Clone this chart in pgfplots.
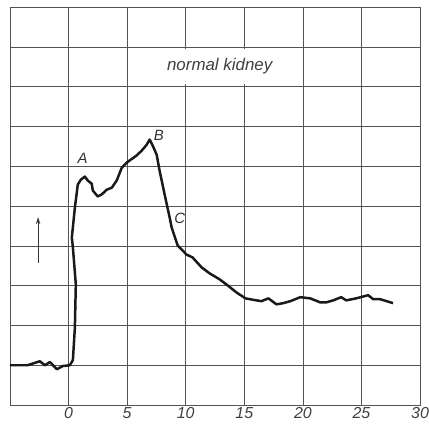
\documentclass[border=0pt]{standalone}
\usepackage{fontspec}
\setmainfont{Liberation Sans}
\usepackage{pgfplots}
\pgfplotsset{compat=1.18}
\usetikzlibrary{arrows.meta}

\definecolor{gridcol}{rgb}{0.33,0.33,0.31}

\begin{document}
\begin{tikzpicture}
\begin{axis}[%
width=411bp,
height=399bp,
scale only axis,
xmin=-5, xmax=30,
ymin=0, ymax=10,
xtick={-5,0,5,10,15,20,25,30},
xticklabels={,0,5,10,15,20,25,30},
ytick={0,1,2,3,4,5,6,7,8,9,10},
yticklabels={},
major tick length=0pt,
grid=major,
grid style={gridcol, line width=0.5pt},
axis line style={gridcol, line width=0.6pt},
/pgf/number format/assume math mode=true,
xticklabel style={font=\fontsize{16}{16}\selectfont\itshape, text=black!75, inner sep=2bp},
clip=false
]
% white box behind the caption
\fill[white] (axis cs:5.35,8.07) rectangle (axis cs:19.75,8.95);
\node[font=\fontsize{17}{17}\selectfont\itshape, text=black!75] at (axis cs:12.9,8.52) {normal kidney};

\addplot[black!90, line width=2.5pt, line join=round] table {
x y
-5.00 1.00
-3.50 1.00
-2.45 1.10
-2.02 1.00
-1.59 1.08
-1.00 0.90
-0.49 0.98
0.11 1.00
0.37 1.13
0.54 1.95
0.62 3.03
0.37 3.96
0.28 4.21
0.54 4.96
0.79 5.54
1.05 5.66
1.39 5.74
1.64 5.64
1.98 5.56
2.07 5.39
2.49 5.24
2.83 5.29
3.26 5.41
3.69 5.46
4.11 5.64
4.54 5.96
4.96 6.09
5.81 6.27
6.24 6.39
6.67 6.54
6.92 6.67
7.18 6.52
7.52 6.29
7.77 5.89
8.20 5.29
8.63 4.71
8.80 4.46
9.31 4.01
10.07 3.78
10.58 3.71
11.35 3.46
12.03 3.31
12.88 3.16
13.56 3.01
14.33 2.83
15.10 2.68
16.03 2.63
16.46 2.61
17.06 2.68
17.74 2.53
18.33 2.56
18.93 2.61
19.78 2.71
20.63 2.68
21.48 2.58
22.00 2.58
22.59 2.63
23.27 2.71
23.70 2.63
24.55 2.68
25.57 2.76
26.00 2.66
26.59 2.66
27.70 2.56
};

\node[font=\fontsize{15}{15}\selectfont\itshape, text=black!80] at (axis cs:1.2,6.20) {A};
\node[font=\fontsize{15}{15}\selectfont\itshape, text=black!80] at (axis cs:7.7,6.78) {B};
\node[font=\fontsize{15}{15}\selectfont\itshape, text=black!80] at (axis cs:9.5,4.70) {C};
\draw[black!80, line width=0.8pt, -{Stealth[length=7bp,width=4.5bp]}] (axis cs:-2.6,3.58) -- (axis cs:-2.6,4.72);
\end{axis}
\pgfresetboundingbox
\useasboundingbox (current axis.south west) ++(-10bp,-21bp) rectangle ([shift={(9bp,7bp)}]current axis.north east);
\end{tikzpicture}
\end{document}
